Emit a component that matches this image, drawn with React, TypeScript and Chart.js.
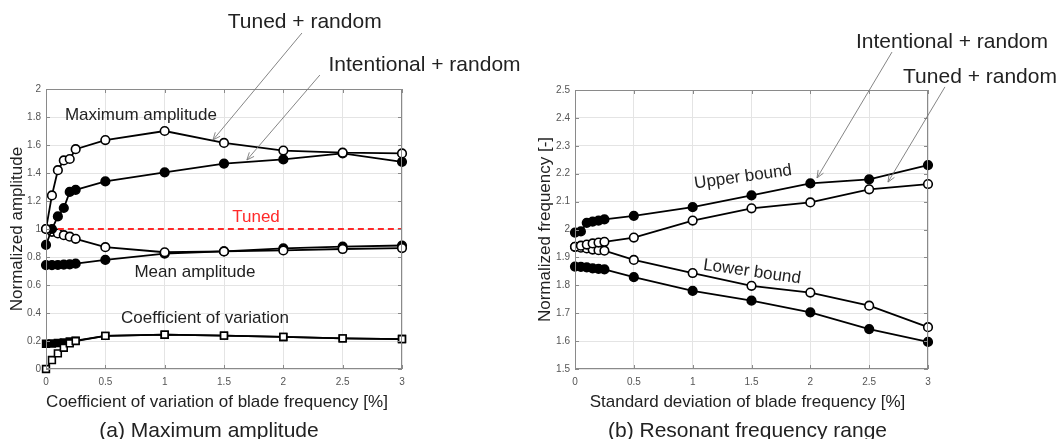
import React, { useEffect, useRef } from "react";
import { Chart, registerables } from "chart.js";
Chart.register(...registerables);

const FONT = "'Liberation Sans', Arial, Helvetica, sans-serif";

// shared x positions (blade frequency variation, %)
const xValues = [0, 0.05, 0.1, 0.15, 0.2, 0.25, 0.5, 1, 1.5, 2, 2.5, 3];

// (a) Maximum amplitude panel
const maxTuned = [1.0, 1.24, 1.42, 1.49, 1.5, 1.57, 1.635, 1.7, 1.615, 1.56, 1.545, 1.54];
const maxIntentional = [0.886, 1.0, 1.09, 1.15, 1.265, 1.28, 1.34, 1.405, 1.467, 1.497, 1.54, 1.48];
const meanTuned = [1.0, 0.98, 0.968, 0.956, 0.945, 0.93, 0.87, 0.834, 0.84, 0.847, 0.857, 0.864];
const meanIntentional = [0.742, 0.742, 0.743, 0.745, 0.748, 0.752, 0.779, 0.824, 0.84, 0.862, 0.874, 0.882];
const covTuned = [0, 0.064, 0.112, 0.152, 0.183, 0.2, 0.237, 0.245, 0.238, 0.229, 0.219, 0.214];
const covIntentional = [0.18, 0.182, 0.186, 0.19, 0.196, 0.203, 0.237, 0.245, 0.238, 0.229, 0.219, 0.214];
const tunedX = [0.1, 3];
const tunedY = [1, 1];

// (b) Resonant frequency range panel
const upperIntentional = [1.989, 1.993, 2.024, 2.028, 2.032, 2.036, 2.049, 2.08, 2.122, 2.165, 2.18, 2.231];
const upperTuned = [1.938, 1.942, 1.946, 1.95, 1.953, 1.956, 1.971, 2.032, 2.076, 2.097, 2.144, 2.163];
const lowerTuned = [1.938, 1.935, 1.932, 1.928, 1.926, 1.924, 1.891, 1.844, 1.798, 1.774, 1.727, 1.65];
const lowerIntentional = [1.867, 1.866, 1.864, 1.861, 1.859, 1.857, 1.829, 1.78, 1.745, 1.703, 1.643, 1.597];

const xTicks = [0, 0.5, 1, 1.5, 2, 2.5, 3];
const leftYTicks = [0, 0.2, 0.4, 0.6, 0.8, 1, 1.2, 1.4, 1.6, 1.8, 2];
const rightYTicks = [1.5, 1.6, 1.7, 1.8, 1.9, 2, 2.1, 2.2, 2.3, 2.4, 2.5];

const pts = (xs: number[], ys: number[]) => xs.map((x, i) => ({ x, y: ys[i] }));

function series(data: number[], filled: boolean, style: string = "circle", radius = 4.3) {
  return {
    data: pts(xValues, data),
    borderColor: "#000",
    borderWidth: 1.8,
    backgroundColor: filled ? "#000" : "#fff",
    pointBackgroundColor: filled ? "#000" : "#fff",
    pointBorderColor: "#000",
    pointBorderWidth: 1.6,
    pointStyle: style,
    pointRadius: radius,
    tension: 0,
    clip: false as any,
  };
}

type Note = { text: string; x: number; y: number; size: number; color?: string; rot?: number };
type Arrow = { x1: number; y1: number; x2: number; y2: number };

function makeOverlay(
  notes: Note[],
  arrows: Arrow[],
  yTitle: string,
  yTitleX: number,
  xTitle: string,
  xTitleDx: number,
  caption: string,
  captionDx: number
) {
  return {
    id: "overlay",
    afterDraw(chart: any) {
      const ctx = chart.ctx as CanvasRenderingContext2D;
      const a = chart.chartArea;
      const xs = chart.scales.x;
      const ys = chart.scales.y;
      ctx.save();
      // frame
      ctx.strokeStyle = "#8a8a8a";
      ctx.lineWidth = 1;
      ctx.strokeRect(a.left + 0.5, a.top + 0.5, a.right - a.left - 1, a.bottom - a.top - 1);
      // inward tick marks
      ctx.beginPath();
      xTicks.forEach((t) => {
        const px = Math.round(xs.getPixelForValue(t)) + 0.5;
        ctx.moveTo(px, a.top);
        ctx.lineTo(px, a.top + 4);
        ctx.moveTo(px, a.bottom);
        ctx.lineTo(px, a.bottom - 4);
      });
      ys.ticks.forEach((t: any) => {
        const py = Math.round(ys.getPixelForValue(t.value)) + 0.5;
        ctx.moveTo(a.left, py);
        ctx.lineTo(a.left + 4, py);
        ctx.moveTo(a.right, py);
        ctx.lineTo(a.right - 4, py);
      });
      ctx.stroke();

      // notes
      ctx.textAlign = "center";
      ctx.textBaseline = "middle";
      notes.forEach((n) => {
        const px = xs.getPixelForValue(n.x);
        const py = ys.getPixelForValue(n.y);
        ctx.save();
        ctx.translate(px, py);
        if (n.rot) ctx.rotate((n.rot * Math.PI) / 180);
        ctx.font = `${n.size}px ${FONT}`;
        ctx.fillStyle = n.color || "#222";
        ctx.fillText(n.text, 0, 0);
        ctx.restore();
      });

      // arrows
      ctx.strokeStyle = "#777";
      ctx.lineWidth = 0.9;
      arrows.forEach((ar) => {
        const x1 = xs.getPixelForValue(ar.x1);
        const y1 = ys.getPixelForValue(ar.y1);
        const x2 = xs.getPixelForValue(ar.x2);
        const y2 = ys.getPixelForValue(ar.y2);
        const ang = Math.atan2(y2 - y1, x2 - x1);
        const L = 8;
        ctx.beginPath();
        ctx.moveTo(x1, y1);
        ctx.lineTo(x2, y2);
        ctx.moveTo(x2 - L * Math.cos(ang - 0.4), y2 - L * Math.sin(ang - 0.4));
        ctx.lineTo(x2, y2);
        ctx.lineTo(x2 - L * Math.cos(ang + 0.4), y2 - L * Math.sin(ang + 0.4));
        ctx.stroke();
      });

      // axis titles and caption
      ctx.fillStyle = "#222";
      ctx.font = `17px ${FONT}`;
      const cx = (a.left + a.right) / 2;
      ctx.fillText(xTitle, cx + xTitleDx, a.bottom + 33);
      ctx.save();
      ctx.translate(yTitleX, (a.top + a.bottom) / 2);
      ctx.rotate(-Math.PI / 2);
      ctx.fillText(yTitle, 0, 0);
      ctx.restore();
      ctx.font = `21px ${FONT}`;
      ctx.fillText(caption, cx + captionDx, a.bottom + 62);
      ctx.restore();
    },
  };
}

function baseOptions(
  yMin: number,
  yMax: number,
  yStep: number,
  yTickList: number[],
  padRight: number,
  padTop: number,
  yWidth: number
) {
  return {
    responsive: false,
    animation: false as const,
    events: [],
    layout: { padding: { left: 0, right: padRight, top: padTop, bottom: 0 } },
    plugins: { legend: { display: false }, tooltip: { enabled: false }, title: { display: false } },
    scales: {
      x: {
        type: "linear" as const,
        min: 0,
        max: 3,
        afterBuildTicks: (s: any) => {
          s.ticks = xTicks.map((v) => ({ value: v }));
        },
        ticks: {
          callback: (v: any) => String(+Number(v).toFixed(2)),
          font: { size: 10, family: FONT },
          color: "#555",
          padding: 7,
          maxRotation: 0,
          autoSkip: false,
        },
        grid: { color: "#e4e4e4", drawTicks: false, lineWidth: 1 },
        border: { display: false },
        afterFit: (s: any) => {
          s.height = 70;
        },
      },
      y: {
        type: "linear" as const,
        min: yMin,
        max: yMax,
        afterBuildTicks: (s: any) => {
          s.ticks = yTickList.map((v) => ({ value: v }));
        },
        ticks: {
          stepSize: yStep,
          callback: (v: any) => String(+Number(v).toFixed(2)),
          font: { size: 10, family: FONT },
          color: "#555",
          padding: 5,
          autoSkip: false,
        },
        grid: { color: "#e4e4e4", drawTicks: false, lineWidth: 1 },
        border: { display: false },
        afterFit: (s: any) => {
          s.width = yWidth;
        },
      },
    },
  };
}

export default function App() {
  const leftRef = useRef<HTMLCanvasElement>(null);
  const rightRef = useRef<HTMLCanvasElement>(null);

  useEffect(() => {
    Chart.defaults.font.family = FONT;
    const left = new Chart(leftRef.current as HTMLCanvasElement, {
      type: "line",
      data: {
        datasets: [
          {
            data: pts(tunedX, tunedY),
            borderColor: "#ff2a2a",
            borderWidth: 1.8,
            borderDash: [6, 4],
            pointRadius: 0,
            clip: false as any,
          },
          series(maxTuned, false),
          series(maxIntentional, true),
          series(meanTuned, false),
          series(meanIntentional, true),
          series(covTuned, false, "rect", 4.8),
          series(covIntentional, true, "rect", 4.8),
        ] as any,
      },
      options: baseOptions(0, 2, 0.2, leftYTicks, 128, 89, 46) as any,
      plugins: [
        makeOverlay(
          [
            { text: "Maximum amplitude", x: 0.8, y: 1.81, size: 17 },
            { text: "Tuned", x: 1.77, y: 1.086, size: 17, color: "#ff2a2a" },
            { text: "Mean amplitude", x: 1.255, y: 0.693, size: 17 },
            { text: "Coefficient of variation", x: 1.34, y: 0.364, size: 17 },
            { text: "Tuned + random", x: 2.18, y: 2.48, size: 21 },
            { text: "Intentional + random", x: 3.19, y: 2.171, size: 21 },
          ],
          [
            { x1: 2.157, y1: 2.4, x2: 1.407, y2: 1.636 },
            { x1: 2.308, y1: 2.1, x2: 1.693, y2: 1.493 },
          ],
          "Normalized amplitude",
          17,
          "Coefficient of variation of blade frequency [%]",
          -7,
          "(a) Maximum amplitude",
          -15
        ) as any,
      ],
    });

    const right = new Chart(rightRef.current as HTMLCanvasElement, {
      type: "line",
      data: {
        datasets: [
          series(upperTuned, false),
          series(upperIntentional, true),
          series(lowerTuned, false),
          series(lowerIntentional, true),
        ] as any,
      },
      options: baseOptions(1.5, 2.5, 0.1, rightYTicks, 134, 90, 45) as any,
      plugins: [
        makeOverlay(
          [
            { text: "Upper bound", x: 1.428, y: 2.188, size: 17, rot: -8 },
            { text: "Lower bound", x: 1.504, y: 1.848, size: 17, rot: 8 },
            { text: "Intentional + random", x: 3.204, y: 2.67, size: 21 },
            { text: "Tuned + random", x: 3.442, y: 2.547, size: 21 },
          ],
          [
            { x1: 2.694, y1: 2.636, x2: 2.057, y2: 2.185 },
            { x1: 3.144, y1: 2.511, x2: 2.66, y2: 2.17 },
          ],
          "Normalized frequency [-]",
          15,
          "Standard deviation of blade frequency [%]",
          -4,
          "(b) Resonant frequency range",
          -4
        ) as any,
      ],
    });

    return () => {
      left.destroy();
      right.destroy();
    };
  }, []);

  return (
    <div
      style={{
        position: "fixed",
        left: 0,
        top: 0,
        width: 1062,
        height: 439,
        background: "#fff",
        overflow: "hidden",
      }}
    >
      <canvas
        ref={leftRef}
        width={530}
        height={439}
        style={{ position: "absolute", left: 0, top: 0, width: 530, height: 439 }}
      />
      <canvas
        ref={rightRef}
        width={532}
        height={439}
        style={{ position: "absolute", left: 530, top: 0, width: 532, height: 439 }}
      />
    </div>
  );
}
